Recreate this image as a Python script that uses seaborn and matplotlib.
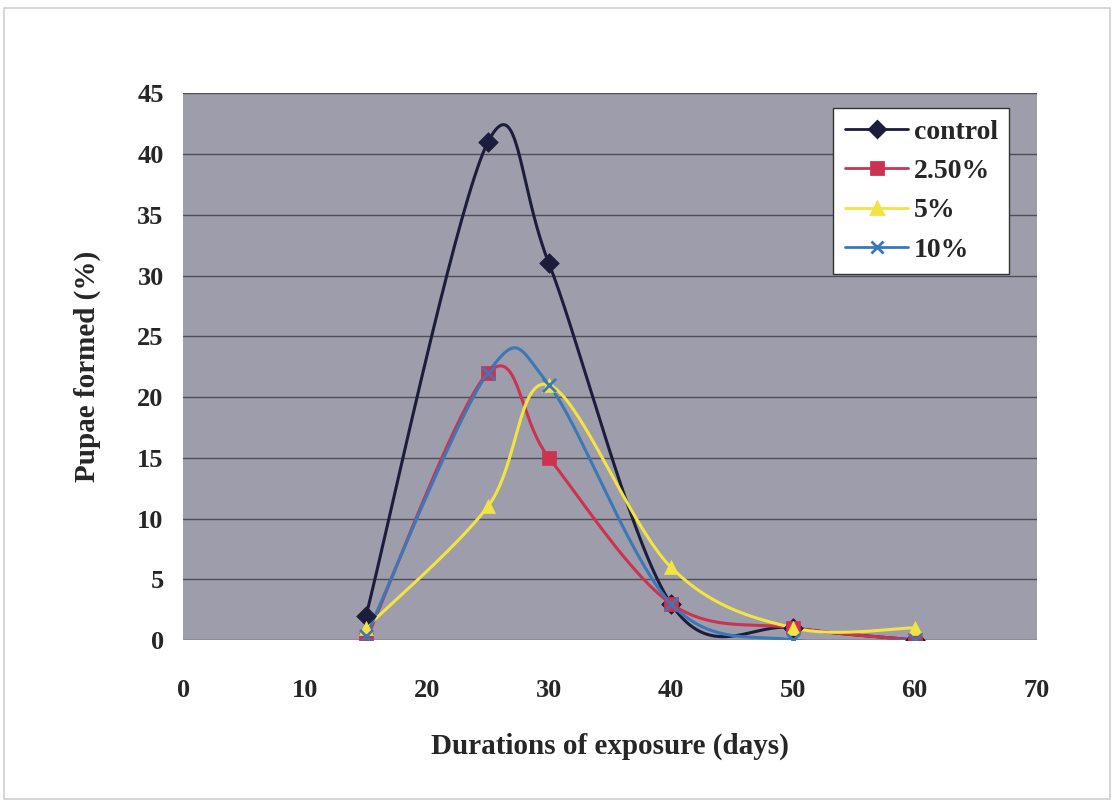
import numpy as np
import pandas as pd
import matplotlib
matplotlib.use("Agg")
import matplotlib.pyplot as plt
import seaborn as sns
from matplotlib.patches import Rectangle

# Data
days = [15, 25, 30, 40, 50, 60]
control = [2, 41, 31, 3, 1, 0]
conc_2_5 = [0, 22, 15, 3, 1, 0]
conc_5 = [1, 11, 21, 6, 1, 1]
conc_10 = [0.3, 22, 21, 3, 0, 0]

series_names = ['control', '2.50%', '5%', '10%']
series_values = [control, conc_2_5, conc_5, conc_10]
colors = ['#1c1c3c', '#cc3350', '#f2e442', '#3a78b8']
markers = ['D', 's', '^', 'x']

sns.set_style("white")
plt.rcParams['font.family'] = ['Liberation Serif', 'DejaVu Serif']
plt.rcParams['font.weight'] = 'bold'


def excel_smooth(x, y, n=40):
    # Bezier smoothing like a spreadsheet "smoothed line"
    x = np.asarray(x, float)
    y = np.asarray(y, float)
    px, py = [], []
    for i in range(len(x) - 1):
        i0 = max(i - 1, 0)
        i3 = min(i + 2, len(x) - 1)
        c1x = x[i] + (x[i + 1] - x[i0]) / 6
        c1y = y[i] + (y[i + 1] - y[i0]) / 6
        c2x = x[i + 1] - (x[i3] - x[i]) / 6
        c2y = y[i + 1] - (y[i3] - y[i]) / 6
        t = np.linspace(0, 1, n)
        bx = (1-t)**3*x[i] + 3*(1-t)**2*t*c1x + 3*(1-t)*t**2*c2x + t**3*x[i+1]
        by = (1-t)**3*y[i] + 3*(1-t)**2*t*c1y + 3*(1-t)*t**2*c2y + t**3*y[i+1]
        px.extend(bx)
        py.extend(by)
    return np.array(px), np.array(py)


fig = plt.figure(figsize=(11.17, 8.05), dpi=100)
ax = fig.add_axes([0.164, 0.205, 0.764, 0.679])
ax.set_facecolor('#9d9dab')

fig.patches.append(Rectangle((0.004, 0.008), 0.99, 0.982, transform=fig.transFigure,
                             fill=False, edgecolor='#d0d0d0', linewidth=1.2))

for name, vals, col, mk in zip(series_names, series_values, colors, markers):
    sx, sy = excel_smooth(days, vals)
    sns.lineplot(x=sx, y=sy, ax=ax, color=col, linewidth=2.2, sort=False,
                 estimator=None, zorder=3)
    pts = pd.DataFrame({'day': days, 'val': vals})
    if mk == 'x':
        ax.scatter(pts['day'], pts['val'], marker='x', s=90, color=col,
                   linewidths=2, zorder=4)
    else:
        sns.scatterplot(data=pts, x='day', y='val', ax=ax, marker=mk, s=100,
                        color=col, edgecolor=col, linewidth=0.5, zorder=4)
    ax.plot([], [], color=col, marker=mk, markersize=8, linewidth=2,
            markeredgewidth=2, label=name)

ax.set_xlim(0, 70)
ax.set_ylim(0, 45)
ax.set_xticks(range(0, 71, 10))
ax.set_yticks(range(0, 46, 5))
ax.yaxis.grid(True, color='#4e4e58', linewidth=1.0)
ax.set_axisbelow(True)
for s in ax.spines.values():
    s.set_visible(False)
ax.tick_params(axis='both', labelsize=19, length=6, direction='out',
               color='#777777')
ax.tick_params(axis='x', pad=22)
ax.tick_params(axis='y', length=0, pad=14)
for lab in ax.get_xticklabels() + ax.get_yticklabels():
    lab.set_fontweight('bold')

ax.set_xlabel('Durations of exposure (days)', fontsize=21, fontweight='bold', labelpad=22)
ax.set_ylabel('Pupae formed (%)', fontsize=21, fontweight='bold', labelpad=26)

leg = ax.legend(loc='upper right', bbox_to_anchor=(0.968, 0.973), borderaxespad=0,
                fontsize=20, frameon=True, fancybox=False, handlelength=2.3,
                labelspacing=0.5, borderpad=0.4, handletextpad=0.2)
leg.get_frame().set_edgecolor('#333333')
leg.get_frame().set_facecolor('white')
leg.get_frame().set_alpha(1)
for t in leg.get_texts():
    t.set_fontweight('bold')

fig.savefig('out.png', dpi=100, facecolor='white')
